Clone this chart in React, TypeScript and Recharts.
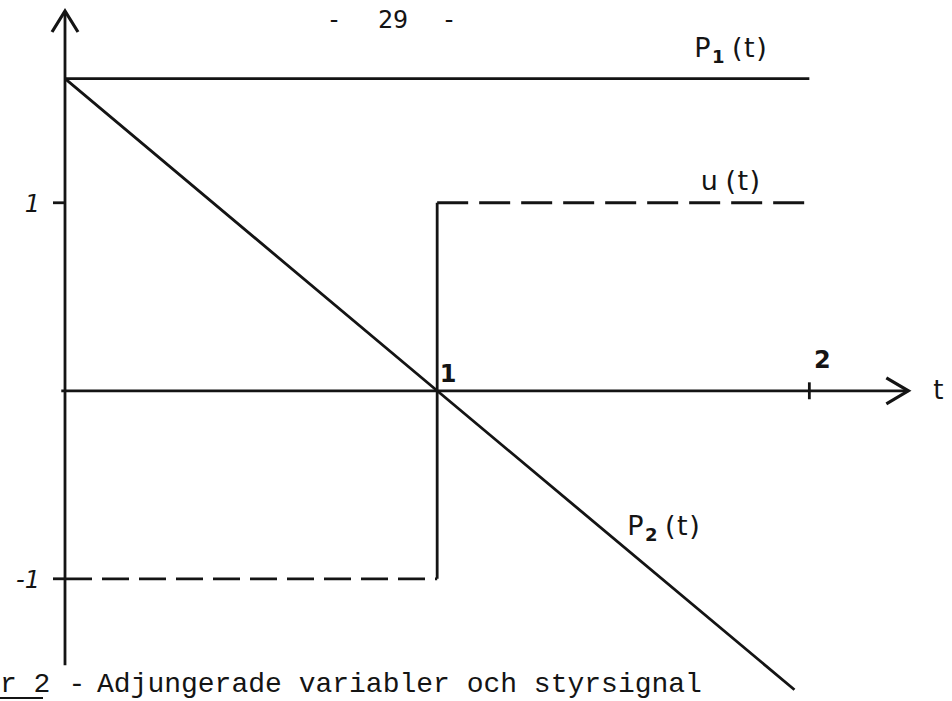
import React from 'react';
import { LineChart, Line, XAxis, YAxis, ReferenceLine, ReferenceDot } from 'recharts';

// Adjoint variables p1, p2 and the control signal u over t

const INK = '#141414';
const HAND = '"DejaVu Sans", sans-serif';
const W = 2.8;

// p1(t) – constant
const p1Times = [0, 2];
const p1Values = [1.66, 1.66];

// p2(t) – falls linearly through zero at t = 1
const p2Times = [0, 1, 1.96];
const p2Values = [1.66, 0, -1.59];

// u(t) – switches from -1 to 1 at t = 1
const uTimes = [0, 1, 1, 2];
const uValues = [-1, -1, 1, 1];

const yTicks = [-1, 1];
const xTickMarks = [2];
const xTickLabels = [1, 2];

const rows = (ts: number[], vs: number[]) => ts.map((t, i) => ({ t, v: vs[i] }));

const p1Data = rows(p1Times, p1Values);
const p2Data = rows(p2Times, p2Values);
const uLow = rows(uTimes.slice(0, 2), uValues.slice(0, 2));
const uJump = rows(uTimes.slice(1, 3), uValues.slice(1, 3));
const uHigh = rows(uTimes.slice(2, 4), uValues.slice(2, 4));

// where the curve names sit (data coordinates)
const names = [
  { main: 'P', sub: '1', t: 1.79, v: 1.777 },
  { main: 'u', sub: '', t: 1.79, v: 1.069 },
  { main: 'P', sub: '2', t: 1.61, v: -0.766 },
];
const xLabelOffsets = [
  { dx: 11, dy: -9 },
  { dx: 13, dy: -23 },
];

const XArrow = (props: any) => {
  const { x1, y1, x2, y2 } = props;
  return (
    <g>
      <line x1={x1} y1={y1} x2={x2} y2={y2} stroke={INK} strokeWidth={W} />
      <polyline
        points={`${x2 - 22},${y2 - 13} ${x2},${y2} ${x2 - 22},${y2 + 13}`}
        fill="none"
        stroke={INK}
        strokeWidth={3.2}
      />
      <text x={x2 + 30} y={y2 + 8} textAnchor="middle" fontFamily={HAND} fontSize={26} fill={INK}>
        t
      </text>
    </g>
  );
};

const YArrow = (props: any) => {
  const { x1, y1, x2, y2 } = props;
  return (
    <g>
      <line x1={x1} y1={y1} x2={x2} y2={y2} stroke={INK} strokeWidth={W} />
      <polyline
        points={`${x2 - 13},${y2 + 21} ${x2},${y2} ${x2 + 13},${y2 + 21}`}
        fill="none"
        stroke={INK}
        strokeWidth={3.2}
      />
    </g>
  );
};

const CurveName = (props: any) => {
  const { viewBox, main, sub } = props;
  return (
    <text x={viewBox.x} y={viewBox.y} textAnchor="middle" fontFamily={HAND} fontSize={27} fill={INK} letterSpacing={1.5}>
      {main}
      {sub ? (
        <tspan dy={6} fontSize={18} fontWeight="bold">
          {sub}
        </tspan>
      ) : null}
      <tspan dy={sub ? -6 : 0} dx={6}>
        (t)
      </tspan>
    </text>
  );
};

const TickText = (props: any) => {
  const { viewBox, value, dx, dy } = props;
  return (
    <text x={viewBox.x + dx} y={viewBox.y + dy} textAnchor="middle" fontFamily={HAND} fontSize={24} fontWeight="bold" fill={INK}>
      {value}
    </text>
  );
};

const YTick = (props: any) => {
  const { x, y, payload } = props;
  return (
    <text x={x} y={y + 9} textAnchor="end" fontFamily={HAND} fontSize={24} fontStyle="italic" fill={INK}>
      {payload.value}
    </text>
  );
};

export default function App() {
  return (
    <div style={{ position: 'absolute', left: 0, top: 0, width: 952, height: 701, background: '#fff' }}>
      <LineChart width={952} height={701} margin={{ top: 11, right: 31, bottom: 0, left: 0 }}>
        <XAxis dataKey="t" type="number" domain={[0, 2.3]} hide allowDataOverflow />
        <YAxis
          type="number"
          domain={[-1.65, 2.02]}
          width={65}
          ticks={yTicks}
          axisLine={false}
          tickLine={{ stroke: INK, strokeWidth: W }}
          tickSize={12}
          tickMargin={13}
          tick={<YTick />}
          allowDataOverflow
        />

        <ReferenceLine segment={[{ x: 0, y: -1.46 }, { x: 0, y: 2.02 }]} ifOverflow="visible" shape={<YArrow />} />
        <ReferenceLine segment={[{ x: -0.01, y: 0 }, { x: 2.266, y: 0 }]} ifOverflow="visible" shape={<XArrow />} />
        {xTickMarks.map((t) => (
          <ReferenceLine
            key={`m-${t}`}
            segment={[{ x: t, y: -0.045 }, { x: t, y: 0.045 }]}
            stroke={INK}
            strokeWidth={W}
            ifOverflow="visible"
          />
        ))}

        <Line data={p1Data} dataKey="v" type="linear" stroke={INK} strokeWidth={W} dot={false} isAnimationActive={false} />
        <Line data={p2Data} dataKey="v" type="linear" stroke={INK} strokeWidth={W} dot={false} isAnimationActive={false} />
        <Line data={uLow} dataKey="v" type="linear" stroke={INK} strokeWidth={W} strokeDasharray="27 10" dot={false} isAnimationActive={false} />
        <Line data={uJump} dataKey="v" type="linear" stroke={INK} strokeWidth={W} dot={false} isAnimationActive={false} />
        <Line data={uHigh} dataKey="v" type="linear" stroke={INK} strokeWidth={W} strokeDasharray="31 11" dot={false} isAnimationActive={false} />

        {xTickLabels.map((t, i) => (
          <ReferenceDot
            key={`l-${t}`}
            x={t}
            y={0}
            r={0}
            fill="none"
            stroke="none"
            ifOverflow="visible"
            label={<TickText value={t} dx={xLabelOffsets[i].dx} dy={xLabelOffsets[i].dy} />}
          />
        ))}
        {names.map((n) => (
          <ReferenceDot
            key={`n-${n.main}${n.sub}`}
            x={n.t}
            y={n.v}
            r={0}
            fill="none"
            stroke="none"
            ifOverflow="visible"
            label={<CurveName main={n.main} sub={n.sub} />}
          />
        ))}
      </LineChart>

      <svg width={952} height={701} style={{ position: 'absolute', left: 0, top: 0, pointerEvents: 'none' }}>
        <g fontFamily='"DejaVu Sans Mono", monospace' fontSize={25} fill={INK}>
          <text x={334} y={28} textAnchor="middle">-</text>
          <text x={393} y={28} textAnchor="middle">29</text>
          <text x={449} y={28} textAnchor="middle">-</text>
        </g>
        <g fontFamily='"Liberation Mono", monospace' fontSize={28} fill={INK}>
          <text x={0} y={692}>r 2</text>
          <line x1={0} y1={698} x2={43} y2={698} stroke={INK} strokeWidth={2} />
          <text x={77} y={692} textAnchor="middle">-</text>
          <text x={97} y={692}>Adjungerade variabler och styrsignal</text>
        </g>
      </svg>
    </div>
  );
}
